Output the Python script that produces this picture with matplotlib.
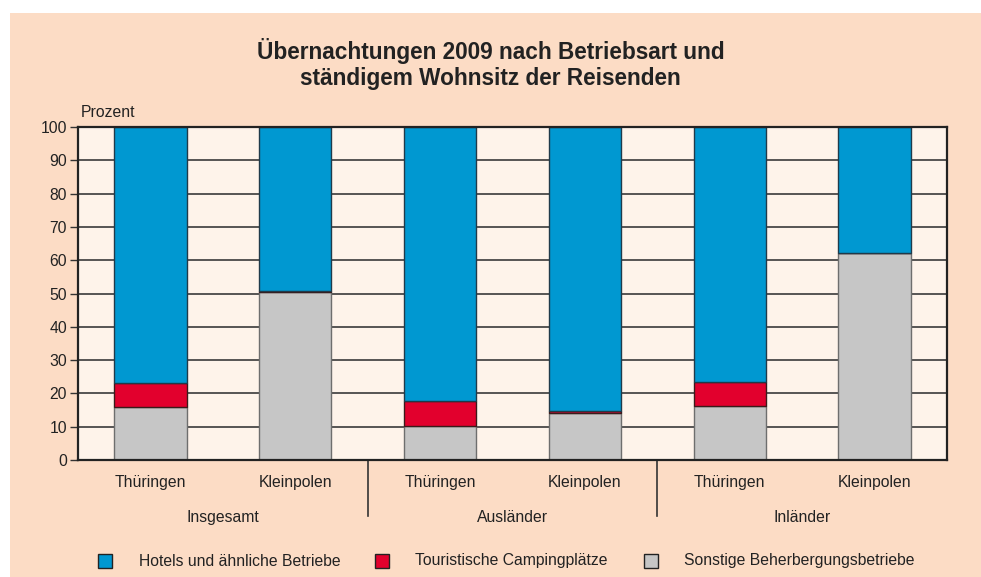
import matplotlib
matplotlib.use("Agg")
import matplotlib.pyplot as plt
from matplotlib.patches import Rectangle

plt.rcParams['font.family'] = ['Liberation Sans', 'DejaVu Sans']

# Werte in Prozent
kategorien = ["Thüringen", "Kleinpolen", "Thüringen", "Kleinpolen", "Thüringen", "Kleinpolen"]
gruppen = ["Insgesamt", "Ausländer", "Inländer"]
sonstige = [15.8, 50.4, 10.2, 14.0, 16.1, 62.1]
camping = [7.3, 0.3, 7.4, 0.8, 7.4, 0.2]
hotels = [100 - s - c for s, c in zip(sonstige, camping)]
legende = ["Hotels und ähnliche Betriebe", "Touristische Campingplätze", "Sonstige Beherbergungsbetriebe"]

c_hotel = '#0098d1'
c_camp = '#e2002d'
c_sonst = '#c6c6c6'
bg_fig = '#fcdcc5'
bg_ax = '#fef3ea'
txt = '#222222'

W, H = 981, 577
fig = plt.figure(figsize=(W / 100, H / 100), dpi=100, facecolor='white')
# peach panel with small white margin top/left
fig.add_artist(Rectangle((10 / W, 0), 1, 1 - 13 / H, transform=fig.transFigure,
                         facecolor=bg_fig, edgecolor='none', zorder=0))

ax = fig.add_axes([78 / W, 1 - 460 / H, (947 - 78) / W, (460 - 127) / H])
ax.set_facecolor(bg_ax)

x = list(range(len(kategorien)))
ax.set_axisbelow(True)
ax.yaxis.grid(True, color='#3a3a3a', linewidth=1.2)
ax.bar(x, sonstige, width=0.5, color=c_sonst, edgecolor='#6e6e6e', linewidth=1)
ax.bar(x, camping, width=0.5, bottom=sonstige, color=c_camp, edgecolor='#3a1a1a', linewidth=1)
bott = [s + c for s, c in zip(sonstige, camping)]
ax.bar(x, hotels, width=0.5, bottom=bott, color=c_hotel, edgecolor='#1f3a4a', linewidth=1)

ax.set_xlim(-0.5, 5.5)
ax.set_ylim(0, 100)
ax.set_yticks(range(0, 101, 10))
ax.tick_params(axis='y', labelsize=11.3, length=6, width=1, color='#333333', pad=2, labelcolor=txt)
ax.set_xticks(x)
ax.set_xticklabels(kategorien, fontsize=11.3, color=txt)
ax.tick_params(axis='x', length=0, pad=11)
for sp in ax.spines.values():
    sp.set_color('#222222')
    sp.set_linewidth(1.6)

# Gruppen und Trennlinien
for i, g in enumerate(gruppen):
    ax.text(2 * i + 0.5, -17.2, g, ha='center', va='center', fontsize=11.3, color=txt, clip_on=False)
for xs in [1.5, 3.5]:
    ax.plot([xs, xs], [0, -16.8], color='#333333', linewidth=1.2, clip_on=False)

ax.text(-0.5 + 0.02, 104.5, "Prozent", fontsize=11.3, ha='left', va='center', color=txt, clip_on=False)

fig.text(0.5, 1 - 64 / H, "Übernachtungen 2009 nach Betriebsart und\nständigem Wohnsitz der Reisenden",
         ha='center', va='center', fontsize=16.3, fontweight='bold', linespacing=1.2, color=txt)

# Legende
farben = [c_hotel, c_camp, c_sonst]
kasten_x = [98, 375, 644]
text_x = [139, 415, 684]
for f, kx, tx, lab in zip(farben, kasten_x, text_x, legende):
    fig.add_artist(Rectangle((kx / W, 1 - 568 / H), 14 / W, 14 / H, transform=fig.transFigure,
                             facecolor=f, edgecolor='#222222', linewidth=1))
    fig.text(tx / W, 1 - 561 / H, lab, ha='left', va='center', fontsize=11.3, color=txt)

fig.savefig("out.png", dpi=100, facecolor='white')
